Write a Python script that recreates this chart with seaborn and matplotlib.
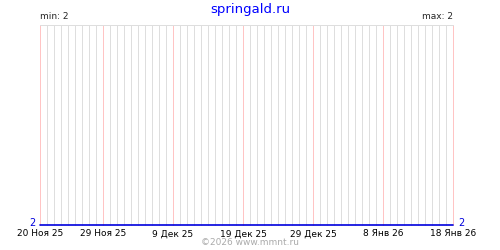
import matplotlib
matplotlib.use("Agg")
import matplotlib.pyplot as plt
import matplotlib.dates as mdates
import matplotlib.ticker as mticker
import matplotlib.transforms as mtransforms
import seaborn as sns
import pandas as pd

dates = pd.date_range("2025-11-20", "2026-01-18", freq="D")
values = [2] * len(dates)
tick_dates = pd.to_datetime(["2025-11-20", "2025-11-29", "2025-12-09", "2025-12-19",
                             "2025-12-29", "2026-01-08", "2026-01-18"])
tick_labels = ["20 Ноя 25", "29 Ноя 25", "9 Дек 25", "19 Дек 25",
               "29 Дек 25", "8 Янв 26", "18 Янв 26"]
y_label = "2"
title = "springald.ru"
footer = "©2026 www.mmnt.ru"
min_label = "min: 2"
max_label = "max: 2"

sns.set_style("white")
plt.rcParams["font.family"] = ["DejaVu Sans"]

df = pd.DataFrame({"date": dates, "value": values})

fig = plt.figure(figsize=(5, 2.5), dpi=100)
ax = fig.add_axes([0.08, 0.10, 0.826, 0.80])

sns.lineplot(data=df, x="date", y="value", ax=ax, color="#0000dd", linewidth=1.2)
for l in ax.lines:
    l.set_clip_on(False)
    l.set_zorder(5)

ax.set_xlim(mdates.date2num(dates[0]), mdates.date2num(dates[-1]))
ax.set_ylim(2, 3)

major_nums = [mdates.date2num(d) for d in tick_dates]
minor_nums = [x for x in (mdates.date2num(d) for d in dates)
              if min(abs(x - m) for m in major_nums) > 0.5]
ax.vlines(minor_nums, 0, 1, transform=ax.get_xaxis_transform(), colors="#dedede",
          linewidth=0.72, antialiased=False, zorder=1, clip_on=False)
ax.vlines(major_nums, 0, 1, transform=ax.get_xaxis_transform(), colors="#ffc4c4",
          linewidth=0.72, antialiased=False, zorder=2, clip_on=False)
ax.xaxis.set_major_locator(mticker.FixedLocator(major_nums))
ax.xaxis.set_major_formatter(mticker.FixedFormatter(tick_labels))
ax.xaxis.set_minor_locator(mticker.NullLocator())
ax.grid(False)

ax.set_yticks([])
ax.tick_params(axis="x", which="both", length=0, labelsize=6.5, pad=3, labelcolor="black")
ax.set_xlabel("")
ax.set_ylabel("")

for s in ["left", "right", "bottom"]:
    ax.spines[s].set_visible(False)
ax.spines["top"].set_color("#dedede")
ax.spines["top"].set_linewidth(0.72)

blend = mtransforms.blended_transform_factory(ax.transAxes, ax.transData)
up = mtransforms.offset_copy(blend, fig=fig, x=0, y=2.5, units="dots")
ax.text(-0.012, values[0], y_label, transform=up, ha="right", va="center",
        color="#0000dd", fontsize=7)
ax.text(1.012, values[-1], y_label, transform=up, ha="left", va="center",
        color="#0000dd", fontsize=7)

fig.text(0.5, 0.962, title, ha="center", va="center", color="#0000ff", fontsize=9.5)
ax.text(0.0, 1.02, min_label, transform=ax.transAxes, ha="left", va="bottom", fontsize=6.5)
ax.text(1.0, 1.02, max_label, transform=ax.transAxes, ha="right", va="bottom", fontsize=6.5)
fig.text(0.5, 0.03, footer, ha="center", va="center", color="#aaaaaa", fontsize=6.5)

fig.savefig("out.png", dpi=100)
